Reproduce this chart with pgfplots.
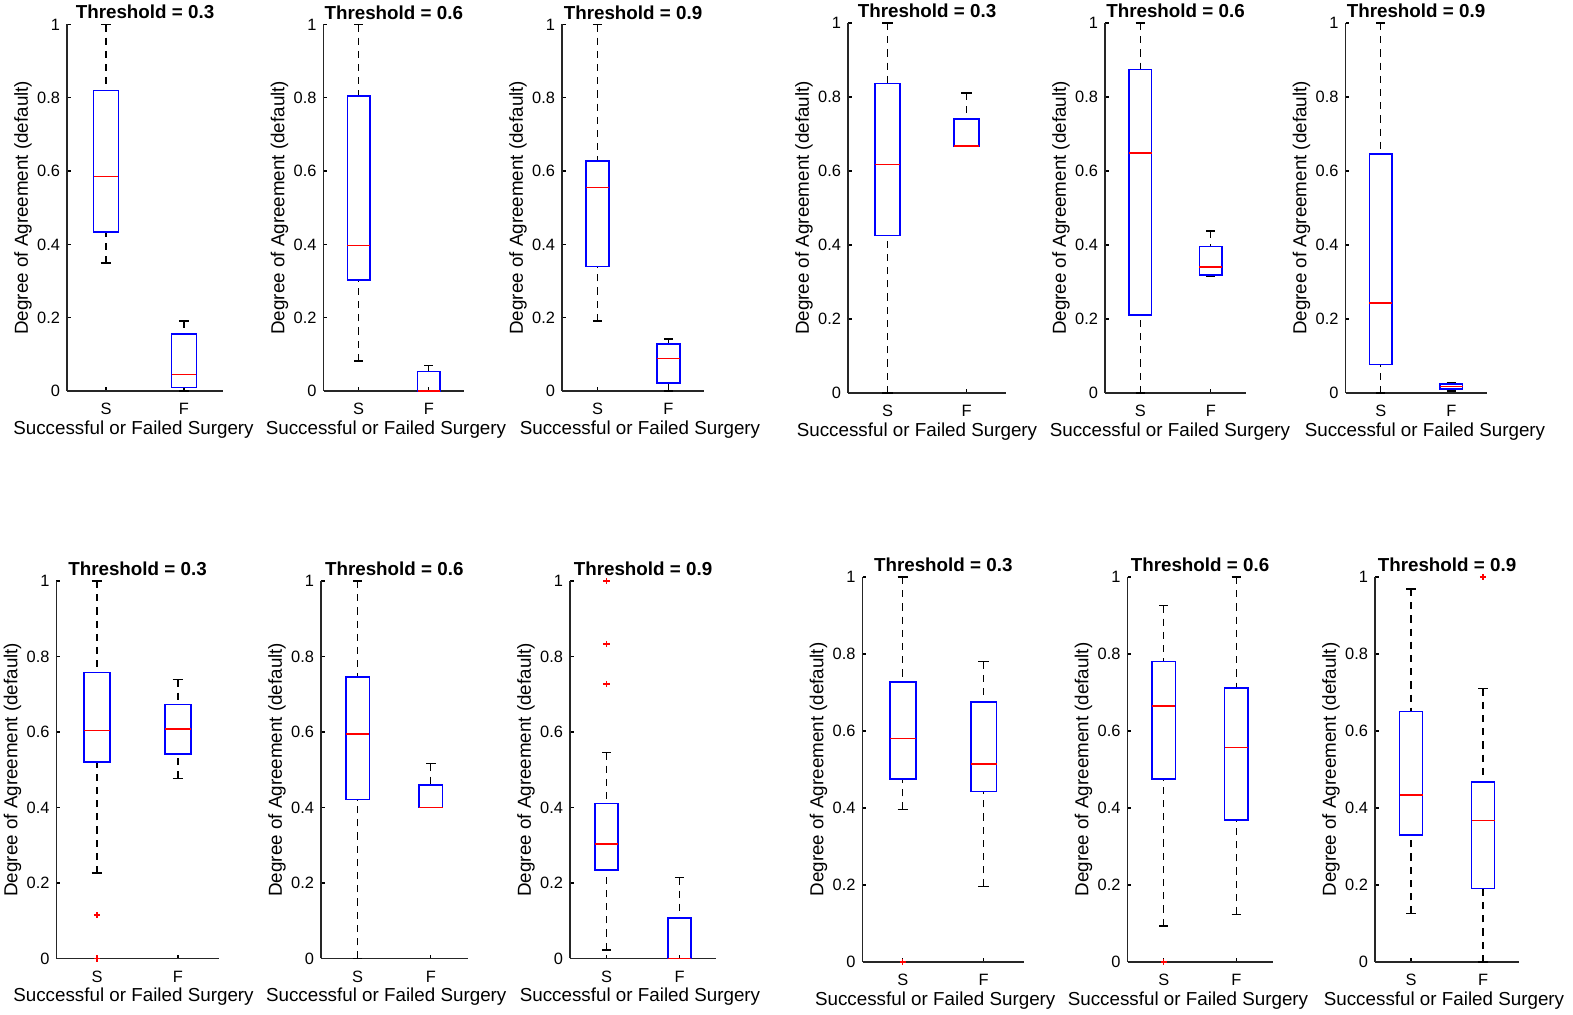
\documentclass[border=0pt]{standalone}
\usepackage{fontspec}
\setmainfont{Liberation Sans}
\usepackage{pgfplots}
\pgfplotsset{compat=1.18}
\usepgfplotslibrary{statistics}
\definecolor{mblue}{RGB}{0,0,255}
\definecolor{mred}{RGB}{255,0,0}
\pgfplotsset{
  boxplot/draw direction=y,
  boxplot/draw/lower whisker/.code={%
    \draw[black, line width=0.6pt, dash pattern=on 3.6pt off 3pt]
      (boxplot box cs:\pgfplotsboxplotvalue{lower whisker},0.5) --
      (boxplot box cs:\pgfplotsboxplotvalue{lower quartile},0.5);
    \draw[black, line width=0.75pt]
      (boxplot whisker cs:\pgfplotsboxplotvalue{lower whisker},0) --
      (boxplot whisker cs:\pgfplotsboxplotvalue{lower whisker},1);
  },
  boxplot/draw/upper whisker/.code={%
    \draw[black, line width=0.6pt, dash pattern=on 3.6pt off 3pt]
      (boxplot box cs:\pgfplotsboxplotvalue{upper whisker},0.5) --
      (boxplot box cs:\pgfplotsboxplotvalue{upper quartile},0.5);
    \draw[black, line width=0.75pt]
      (boxplot whisker cs:\pgfplotsboxplotvalue{upper whisker},0) --
      (boxplot whisker cs:\pgfplotsboxplotvalue{upper whisker},1);
  },
  boxplot/every box/.style={draw=mblue, line width=0.8pt},
  boxplot/every median/.style={draw=mred, line width=0.8pt},
  panel/.style={
    scale only axis, anchor=south west,
    xmin=0.5, xmax=2.5, ymin=0, ymax=1,
    xtick={1,2}, xticklabels={S,F},
    ytick={0,0.2,0.4,0.6,0.8,1},
    axis x line*=bottom, axis y line*=left,
    axis line style={-, line width=0.7pt, black!85},
    tick align=inside, major tick length=1.8pt,
    tick style={line width=0.6pt, black},
    ticklabel style={font=\fontsize{8.2}{9}\selectfont},
    xticklabel style={yshift=-2.6pt},
    /pgf/number format/assume math mode=true,
    xlabel={Successful or Failed Surgery},
    ylabel={Degree of Agreement (default)},
    label style={font=\fontsize{9.4}{11}\selectfont},
    xlabel style={at={(axis description cs:0.5,0)}, anchor=center, yshift=-19.3pt},
    ylabel style={at={(axis description cs:0,0.5)}, anchor=center, yshift=22pt},
    every axis title shift=0pt,
    title style={font=\bfseries\fontsize{9.4}{11}\selectfont, at={(axis description cs:0.5,1)}, anchor=center, yshift=6.1pt},
    clip=false,
    boxplot/box extend=0.32, boxplot/whisker extend=0.13,
  },
}
\newcommand{\bx}[7]{\addplot[mred, mark=+, mark size=1.6pt, mark options={line width=0.6pt}, boxplot prepared={draw position=#1, lower whisker=#2, lower quartile=#3, median=#4, upper quartile=#5, upper whisker=#6}] coordinates {#7};}
\begin{document}
\begin{tikzpicture}
\path[use as bounding box] (0,0) rectangle (786.5pt,507.5pt);
% ---------- top left ----------
\begin{axis}[panel, at={(33.5pt,312pt)}, width=78pt, height=183.25pt, title={Threshold = 0.3}, xlabel style={xshift=-5.75pt}]
\bx{1}{0.349}{0.433}{0.585}{0.820}{1.0}{}
\bx{2}{0}{0.010}{0.045}{0.155}{0.191}{}
\end{axis}
\begin{axis}[panel, at={(161.75pt,312pt)}, width=70.25pt, height=183.25pt, title={Threshold = 0.6}, xlabel style={xshift=-3.9pt}]
\bx{1}{0.082}{0.303}{0.397}{0.805}{1.0}{}
\bx{2}{0}{0}{0}{0.053}{0.070}{}
\end{axis}
\begin{axis}[panel, at={(281pt,312pt)}, width=71pt, height=183.25pt, title={Threshold = 0.9}, xlabel style={xshift=3.5pt}]
\bx{1}{0.191}{0.340}{0.555}{0.627}{1.0}{}
\bx{2}{0}{0.022}{0.089}{0.129}{0.142}{}
\end{axis}
% ---------- top right ----------
\begin{axis}[panel, at={(424pt,311pt)}, width=79pt, height=185pt, title={Threshold = 0.3}, xlabel style={xshift=-5pt}]
\bx{1}{0}{0.426}{0.617}{0.836}{1.0}{}
\bx{2}{0.668}{0.668}{0.668}{0.740}{0.811}{}
\end{axis}
\begin{axis}[panel, at={(552.5pt,311pt)}, width=70.5pt, height=185pt, title={Threshold = 0.6}, xlabel style={xshift=-2.75pt}]
\bx{1}{0}{0.211}{0.649}{0.874}{1.0}{}
\bx{2}{0.315}{0.319}{0.341}{0.396}{0.438}{}
\end{axis}
\begin{axis}[panel, at={(672.75pt,311pt)}, width=70.5pt, height=185pt, title={Threshold = 0.9}, xlabel style={xshift=4.5pt}]
\bx{1}{0}{0.077}{0.243}{0.646}{1.0}{}
\bx{2}{0.005}{0.011}{0.017}{0.024}{0.028}{}
\end{axis}
% ---------- bottom left ----------
\begin{axis}[panel, at={(28.25pt,28.25pt)}, width=81pt, height=188.75pt, title={Threshold = 0.3}, xlabel style={xshift=-2pt}]
\bx{1}{0.226}{0.520}{0.604}{0.758}{1.0}{(0,0.115) (0,0)}
\bx{2}{0.477}{0.542}{0.608}{0.673}{0.739}{}
\end{axis}
\begin{axis}[panel, at={(160.5pt,28.25pt)}, width=73.25pt, height=188.75pt, title={Threshold = 0.6}, xlabel style={xshift=-4pt}]
\bx{1}{0}{0.421}{0.595}{0.745}{1.0}{}
\bx{2}{0.400}{0.400}{0.400}{0.459}{0.517}{}
\end{axis}
\begin{axis}[panel, at={(285pt,28.25pt)}, width=73pt, height=188.75pt, title={Threshold = 0.9}, xlabel style={xshift=-1.5pt}]
\bx{1}{0.023}{0.235}{0.303}{0.411}{0.546}{(0,1.0) (0,0.833) (0,0.727)}
\bx{2}{0}{0}{0}{0.107}{0.215}{}
\end{axis}
% ---------- bottom right ----------
\begin{axis}[panel, at={(431.25pt,26.5pt)}, width=80.75pt, height=192.5pt, title={Threshold = 0.3}, xlabel style={xshift=-4pt}]
\bx{1}{0.396}{0.475}{0.581}{0.727}{1.0}{(0,0)}
\bx{2}{0.196}{0.443}{0.515}{0.675}{0.780}{}
\end{axis}
\begin{axis}[panel, at={(563.75pt,26.5pt)}, width=72.5pt, height=192.5pt, title={Threshold = 0.6}, xlabel style={xshift=-6pt}]
\bx{1}{0.094}{0.476}{0.665}{0.781}{0.926}{(0,0)}
\bx{2}{0.124}{0.369}{0.557}{0.712}{1.0}{}
\end{axis}
\begin{axis}[panel, at={(687.5pt,26.5pt)}, width=72pt, height=192.5pt, title={Threshold = 0.9}, xlabel style={xshift=-1.5pt}]
\bx{1}{0.126}{0.330}{0.434}{0.651}{0.969}{}
\bx{2}{0}{0.191}{0.367}{0.467}{0.710}{(0,1.0)}
\end{axis}
\end{tikzpicture}
\end{document}
